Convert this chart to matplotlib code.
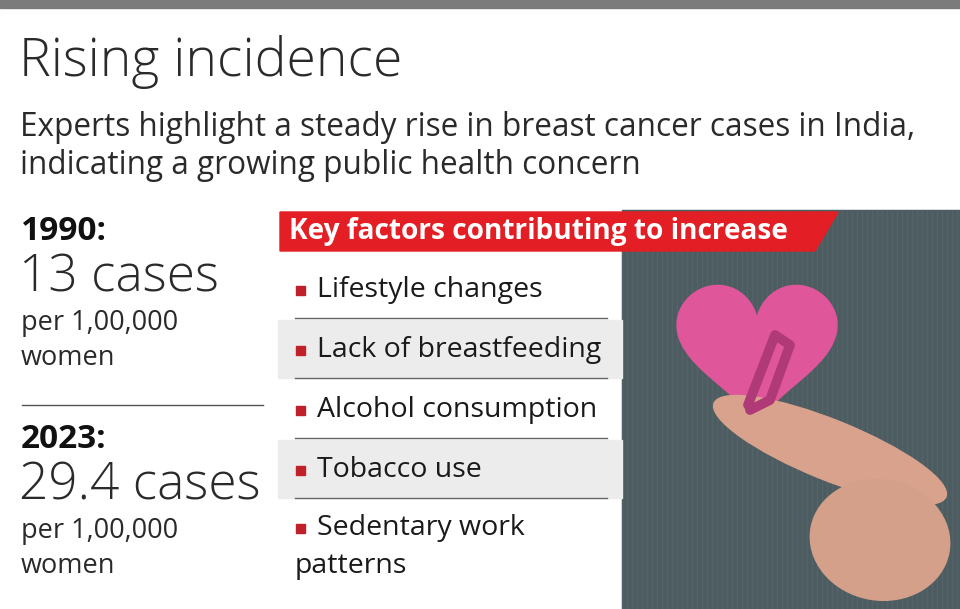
import matplotlib.pyplot as plt
from matplotlib.patches import Rectangle, Polygon, Ellipse
import numpy as np

title = "Rising incidence"
subtitle = ["Experts highlight a steady rise in breast cancer cases in India,",
            "indicating a growing public health concern"]
years = ["1990:", "2023:"]
cases = ["13 cases", "29.4 cases"]
unit = ["per 1,00,000", "women"]
banner = "Key factors contributing to increase"
factors = ["Lifestyle changes", "Lack of breastfeeding", "Alcohol consumption",
           "Tobacco use", "Sedentary work\npatterns"]

RED = "#e31e24"
FONT = "Open Sans"

fig = plt.figure(figsize=(9.6, 6.09), dpi=100)
ax = fig.add_axes([0, 0, 1, 1])
ax.set_xlim(0, 960)
ax.set_ylim(609, 0)
ax.axis("off")

ax.add_patch(Rectangle((0, 0), 960, 8, color="#7b7b7b"))
ax.text(19, 62, title, fontsize=38.5, family=FONT, fontweight="light", color="#2a2a2a", va="center")
for i, s in enumerate(subtitle):
    ax.text(20, 128 + i * 38, s, fontsize=22.7, family=FONT, color="#2a2a2a", va="center")

# left stats
for y0, yr, c in zip([232, 440], years, cases):
    ax.text(21, y0, yr, fontsize=24, family=FONT, fontweight="bold", color="#111", va="center")
    ax.text(19, y0 + 46, c, fontsize=37, family=FONT, fontweight="light", color="#2a2a2a", va="center")
    ax.text(21, y0 + 91, unit[0], fontsize=19.5, family=FONT, color="#2a2a2a", va="center")
    ax.text(21, y0 + 126, unit[1], fontsize=19.5, family=FONT, color="#2a2a2a", va="center")
ax.plot([22, 263], [405, 405], color="#555", lw=1)

# photo placeholder
ax.add_patch(Rectangle((622, 210), 338, 399, color="#4d5c60", zorder=0.3))
for k in range(0, 340, 5):
    ax.plot([622 + k, 622 + k], [210, 609], color="#5a6a6e", lw=1, alpha=0.5, zorder=0.4)
t = np.linspace(0, 2 * np.pi, 200)
hx = 16 * np.sin(t) ** 3
hy = 13 * np.cos(t) - 5 * np.cos(2 * t) - 2 * np.cos(3 * t) - np.cos(4 * t)
ax.add_patch(Polygon(np.c_[757 + hx * 5.0, 345 - hy * 5.0], color="#e0569a"))
ax.plot([748, 775, 790, 770, 750], [405, 335, 345, 400, 410], color="#b03a78", lw=7,
        solid_capstyle="round")
ax.add_patch(Ellipse((830, 450), 250, 60, angle=22, color="#d9a28c"))
ax.add_patch(Ellipse((880, 540), 140, 120, angle=10, color="#d4a08a"))

# list rows
for i, f in enumerate(factors):
    yc = 290 + i * 60
    if i in (1, 3):
        ax.add_patch(Rectangle((278, yc - 30), 344, 58, color="#ececec"))
    if i < 4:
        ax.plot([295, 607], [yc + 28, yc + 28], color="#666", lw=1)
        ax.add_patch(Rectangle((296, yc - 4), 9, 9, color="#c0202a"))
        ax.text(317, yc, f, fontsize=20.5, family=FONT, color="#1a1a1a", va="center")
    else:
        ax.add_patch(Rectangle((296, yc - 6), 9, 9, color="#c0202a"))
        ax.text(317, yc - 2, f.split("\n")[0], fontsize=20.5, family=FONT, color="#1a1a1a", va="center")
        ax.text(295, yc + 36, f.split("\n")[1], fontsize=20.5, family=FONT, color="#1a1a1a", va="center")

# banner
ax.add_patch(Polygon([(280, 212), (838, 212), (815, 251), (280, 251)], color=RED))
ax.text(289, 232, banner, fontsize=20.2, family=FONT, fontweight="bold", color="white", va="center")

fig.savefig("out.png", dpi=100)
